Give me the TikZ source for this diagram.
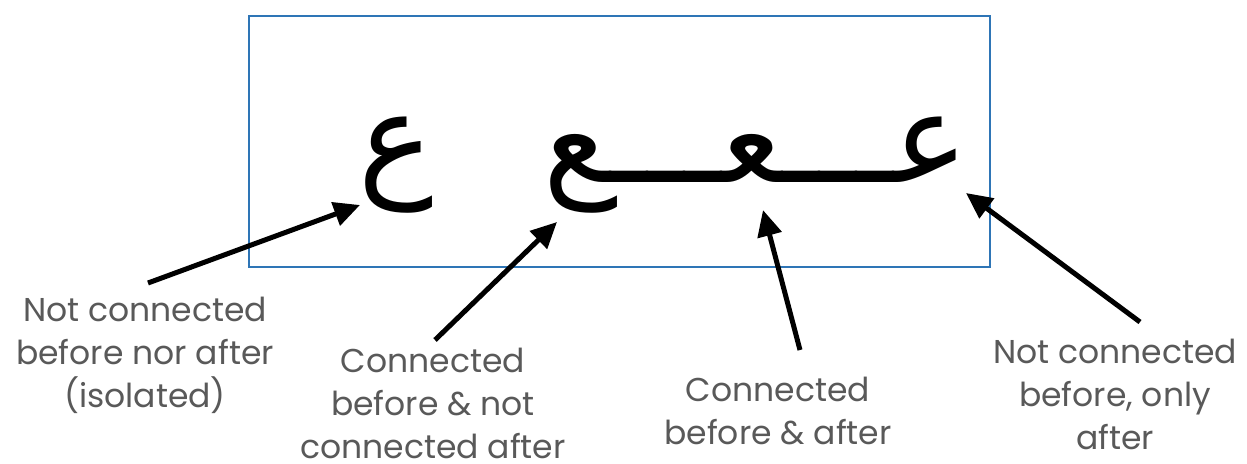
\documentclass[tikz,border=0pt]{standalone}
\usepackage{fontspec}
\setmainfont{Poppins}
\newfontfamily\arabicfont[Script=Arabic]{DejaVu Sans}
\TeXXeTstate=1
\usetikzlibrary{arrows.meta}
\definecolor{boxblue}{HTML}{2E75B6}
\definecolor{labelgray}{HTML}{595959}
\begin{document}
\begin{tikzpicture}[x=1pt,y=-1pt,
  lbl/.style={align=center,text=labelgray,font=\fontsize{33}{43}\selectfont,inner sep=0pt},
  arab/.style={font=\arabicfont\fontsize{126}{126}\selectfont,inner sep=0pt,anchor=base},
  pointer/.style={line width=5pt,-{Triangle[length=26pt,width=24pt]}}]
\useasboundingbox (0,0) rectangle (1247,463);
\draw[boxblue,line width=2pt] (249,16) rectangle (990,267);
\node[arab] (iso) at (396,182) {\beginR ع\endR};
\node[arab] (word) at (756,182) {\beginR عـــعـــع\endR};
\node[lbl] (l1) at (145,355) {Not connected\\before nor after\\(isolated)};
\node[lbl] (l2) at (433,403) {Connected\\before \& not\\connected after};
\node[lbl] (l3) at (778,411) {Connected\\before \& after};
\node[lbl] (l4) at (1115,394) {Not connected\\before, only\\after};
\coordinate (t1) at (148,283); \coordinate (h1) at (360,205);
\coordinate (t2) at (435,340); \coordinate (h2) at (557,222);
\coordinate (t3) at (800,350); \coordinate (h3) at (763,210);
\coordinate (t4) at (1140,322); \coordinate (h4) at (966,193);
\draw[pointer] (t1) -- (h1);
\draw[pointer] (t2) -- (h2);
\draw[pointer] (t3) -- (h3);
\draw[pointer] (t4) -- (h4);
\end{tikzpicture}
\end{document}
